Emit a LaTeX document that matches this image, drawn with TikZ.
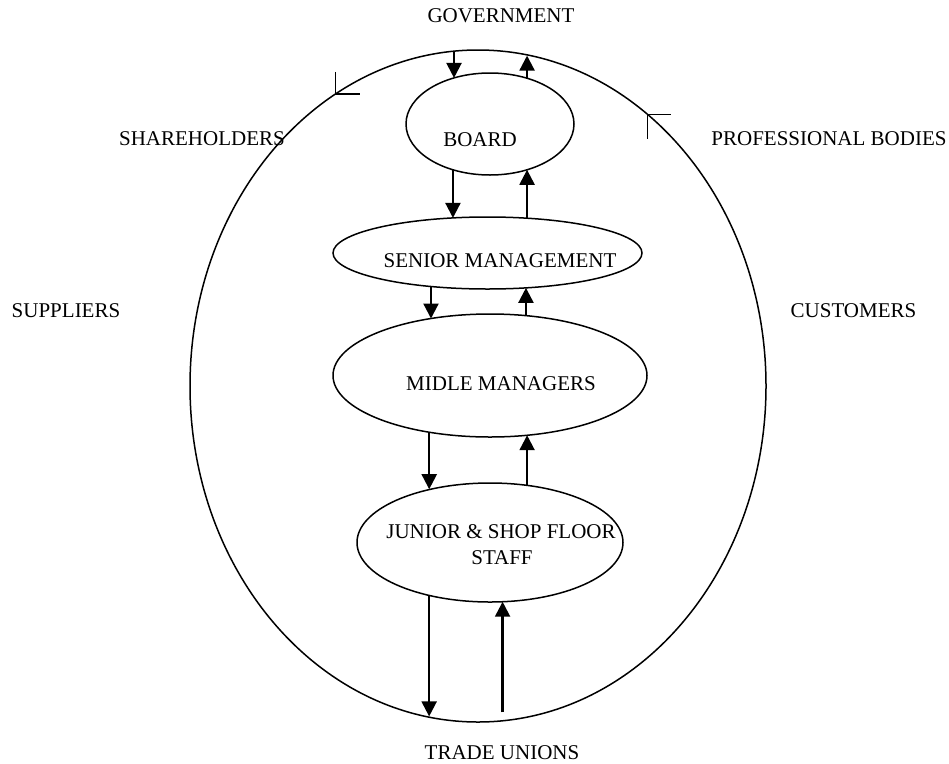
\documentclass[tikz,border=0pt]{standalone}
\usepackage{fontspec}
\setmainfont{Liberation Serif}
\usetikzlibrary{arrows.meta,shapes.geometric}
\begin{document}
\begin{tikzpicture}[x=1pt,y=-1pt,
  oval/.style={ellipse,draw,line width=1.5pt,inner sep=0pt,outer sep=0pt},
  lbl/.style={font=\fontsize{21}{26}\selectfont,inner sep=0pt,anchor=base},
  flow/.style={line width=2.2pt,-{Triangle[length=15pt,width=15pt]}},
  tick/.style={line width=1.5pt}]
\useasboundingbox (0,0) rectangle (949,763);

% organisation boundary and its internal levels
\node[oval,minimum width=576pt,minimum height=672pt] (org) at (478,386) {};
\node[oval,minimum width=168pt,minimum height=102pt] (board) at (490,124) {};
\node[oval,minimum width=309pt,minimum height=72pt] (senior) at (487.5,253) {};
\node[oval,minimum width=314pt,minimum height=123pt] (middle) at (490,375.5) {};
\node[oval,minimum width=266pt,minimum height=119pt] (junior) at (490,542.5) {};

% level captions
\node[lbl] (tboard) at (480,146) {BOARD};
\node[lbl] (tsenior) at (500,267) {SENIOR MANAGEMENT};
\node[lbl] (tmiddle) at (501,390) {MIDLE MANAGERS};
\node[lbl] (tjunior1) at (501,538) {JUNIOR \& SHOP FLOOR};
\node[lbl] (tjunior2) at (502,564) {STAFF};

% external stakeholders
\node[lbl] (gov) at (501,22) {GOVERNMENT};
\node[lbl] (share) at (202,145) {SHAREHOLDERS};
\node[lbl] (prof) at (829,145) {PROFESSIONAL BODIES};
\node[lbl] (supp) at (66,317) {SUPPLIERS};
\node[lbl] (cust) at (853.5,317) {CUSTOMERS};
\node[lbl] (union) at (502,759) {TRADE UNIONS};

% corner ticks on the boundary
\draw[tick] (org.116.1) ++(0,-22) -- (org.116.1) -- ++(24,0);
\draw[tick] (org.58.1) ++(23,0) -- (org.58.1) -- ++(0,24);

% two-way vertical flows between the levels
\draw[flow] (org.94.27 -| board.128.9) -- (board.128.9);
\draw[flow] (board.51.1) -- (board.51.1 |- org.81.58);
\draw[flow] (board.231.1) -- (board.231.1 |- senior.134.5);
\draw[flow] (senior.41.4 -| board.-51.1) -- (board.-51.1);
\draw[flow] (senior.210.15 -| middle.136.57) -- (middle.136.57);
\draw[flow] (middle.59.0) -- (middle.59.0 |- senior.-42.2);
\draw[flow] (middle.223.43) -- (middle.223.43 |- junior.138.5);
\draw[flow] (junior.57.06) -- (junior.57.06 |- middle.-58.25);
\draw[flow] (junior.221.5) -- (junior.221.5 |- org.261.76);
\draw[flow] ([yshift=8pt]org.-85.9 -| junior.-78.56) -- (junior.-78.56);
\end{tikzpicture}
\end{document}
